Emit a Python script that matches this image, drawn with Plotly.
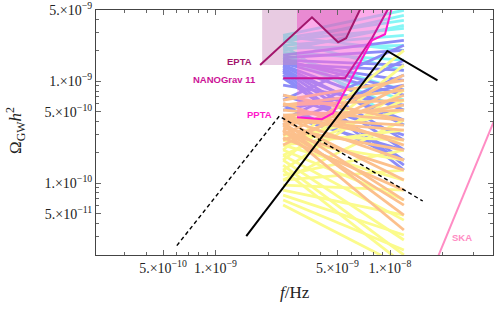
import plotly.graph_objects as go

# ---------------- data ----------------
# frequency range of the fan of model spectra
fan_f = [2.44e-9, 1.2e-8]

cyan_left = [2.82e-9, 2.65e-9, 2.52e-9, 2.40e-9, 2.25e-9, 2.10e-9, 2.01e-9, 1.92e-9, 1.80e-9, 1.70e-9, 2.25e-9, 2.52e-9, 2.75e-9, 1.61e-9]
cyan_right = [4.97e-9, 3.96e-9, 3.30e-9, 4.43e-9, 2.82e-9, 2.25e-9, 3.54e-9, 1.61e-9, 8.16e-10, 5.20e-10, 3.71e-10, 1.28e-9, 2.01e-9, 6.52e-10]

blue_left = [1.80e-9, 1.70e-9, 1.61e-9, 1.54e-9, 1.50e-9, 1.44e-9, 1.40e-9, 1.34e-9, 1.28e-9, 1.23e-9, 1.15e-9, 1.07e-9,
             1.61e-9, 1.47e-9, 1.28e-9, 9.14e-10, 7.29e-10, 5.82e-10, 4.65e-10, 4.15e-10, 3.71e-10, 6.52e-10, 5.20e-10]
blue_right = [2.52e-9, 2.01e-9, 1.44e-9, 1.02e-9, 7.29e-10, 5.20e-10, 3.71e-10, 2.64e-10, 2.11e-10, 1.50e-10, 1.34e-10, 1.68e-10,
              8.16e-10, 1.28e-9, 4.15e-10, 5.82e-10, 2.96e-10, 1.68e-10, 2.11e-10, 1.61e-9, 1.15e-9, 2.25e-9, 9.14e-10]

orange_left = [6.52e-10, 5.82e-10, 5.20e-10, 4.65e-10, 4.35e-10, 4.15e-10, 3.90e-10, 3.71e-10, 3.31e-10, 5.82e-10, 4.65e-10, 4.15e-10,
               3.45e-10, 3.20e-10, 2.80e-10, 2.64e-10, 2.36e-10, 2.96e-10, 3.71e-10, 4.35e-10, 3.31e-10, 7.29e-10, 6.08e-10]
orange_right = [1.02e-9, 6.52e-10, 4.15e-10, 2.64e-10, 1.68e-10, 1.07e-10, 6.81e-11, 4.85e-11, 3.46e-11, 8.16e-10, 5.20e-10, 3.31e-10,
                2.11e-10, 1.34e-10, 8.53e-11, 7.29e-10, 9.14e-10, 1.15e-9, 5.82e-10, 3.71e-10, 6.08e-11, 4.15e-10, 2.36e-10]

yellow_left = [2.96e-10, 2.64e-10, 2.36e-10, 2.11e-10, 1.88e-10, 1.68e-10, 1.50e-10, 1.34e-10, 1.20e-10, 1.07e-10, 9.55e-11,
               8.53e-11, 7.62e-11, 6.81e-11, 6.08e-11, 2.11e-10, 1.68e-10, 1.34e-10, 1.07e-10, 2.36e-10, 2.64e-10, 1.88e-10]
yellow_right = [2.64e-10, 1.68e-10, 1.07e-10, 6.81e-11, 4.33e-11, 2.76e-11, 1.97e-11, 1.60e-11, 2.11e-10, 1.34e-10, 8.53e-11,
                4.85e-11, 3.09e-11, 2.20e-11, 1.50e-11, 2.01e-9, 1.44e-9, 8.16e-10, 4.15e-10, 3.31e-10, 5.20e-10, 6.52e-10]

# PTA sensitivity curves
epta_f = [1.80e-9, 3.57e-9, 5.04e-9, 5.60e-9, 6.92e-9]
epta_om = [1.44e-9, 4.24e-9, 2.41e-9, 2.64e-9, 5.56e-9]

nano_f = [2.44e-9, 5.52e-9, 7.88e-9, 1.00e-8]
nano_om = [1.07e-9, 1.07e-9, 2.64e-9, 5.56e-9]

ppta_f = [2.93e-9, 4.07e-9, 4.71e-9, 7.88e-9, 9.36e-9, 1.00e-8, 1.05e-8]
ppta_om = [4.44e-10, 4.24e-10, 4.85e-10, 2.52e-9, 2.89e-9, 4.74e-9, 6.22e-9]

ska_f = [1.85e-8, 4.0e-8]
ska_om = [1.76e-11, 4.33e-10]

band_f = [1.85e-9, 2.93e-9]
band_om = [1.44e-9, 7e-9]

# model spectra (black)
dashed_f = [6.0e-10, 2.32e-9, 1.54e-8]
dashed_om = [2.43e-11, 4.54e-10, 6.67e-11]
solid_f = [1.50e-9, 9.65e-9, 1.87e-8]
solid_om = [3.02e-11, 1.98e-9, 1.02e-9]

top_om = 7e-9

# ticks
x_major = [5e-10, 1e-9, 5e-9, 1e-8]
x_major_text = ["5.×10<sup>−10</sup>", "1.×10<sup>−9</sup>", "5.×10<sup>−9</sup>", "1.×10<sup>−8</sup>"]
x_minor = [3e-10, 4e-10, 6e-10, 7e-10, 8e-10, 9e-10, 2e-9, 3e-9, 4e-9, 6e-9, 7e-9, 8e-9, 9e-9, 2e-8, 3e-8]
y_major = [5e-11, 1e-10, 5e-10, 1e-9, 5e-9]
y_major_text = ["5.×10<sup>−11</sup>", "1.×10<sup>−10</sup>", "5.×10<sup>−10</sup>", "1.×10<sup>−9</sup>", "5.×10<sup>−9</sup>"]
y_minor = [2e-11, 3e-11, 4e-11, 6e-11, 7e-11, 8e-11, 9e-11, 2e-10, 3e-10, 4e-10, 6e-10, 7e-10, 8e-10, 9e-10,
           2e-9, 3e-9, 4e-9]

# ---------------- figure ----------------
fig = go.Figure()


def segs(left, right):
    xs, ys = [], []
    for a, b in zip(left, right):
        xs += [fan_f[0], fan_f[1], None]
        ys += [a, b, None]
    return xs, ys


for left, right, col in [(cyan_left, cyan_right, "#86f6f6"),
                         (blue_left, blue_right, "#8c8cf8"),
                         (yellow_left, yellow_right, "#fbfb8c"),
                         (orange_left, orange_right, "#fcc08c")]:
    xs, ys = segs(left, right)
    fig.add_trace(go.Scatter(x=xs, y=ys, mode="lines", line=dict(color=col, width=2.8),
                             hoverinfo="skip", showlegend=False))

# shaded regions
fig.add_trace(go.Scatter(x=[band_f[0], band_f[1], band_f[1], band_f[0]],
                         y=[band_om[0], band_om[0], band_om[1], band_om[1]],
                         fill="toself", mode="none", fillcolor="rgba(205,140,190,0.45)",
                         hoverinfo="skip", showlegend=False))
fig.add_trace(go.Scatter(x=[band_f[1]] + nano_f[1:] + [nano_f[-1], band_f[1]],
                         y=[nano_om[0]] + nano_om[1:] + [top_om, top_om],
                         fill="toself", mode="none", fillcolor="rgba(245,115,215,0.38)",
                         hoverinfo="skip", showlegend=False))
fig.add_trace(go.Scatter(x=ppta_f + [ppta_f[-1], ppta_f[0]], y=ppta_om + [top_om, top_om],
                         fill="toself", mode="none", fillcolor="rgba(255,110,220,0.32)",
                         hoverinfo="skip", showlegend=False))
fig.add_trace(go.Scatter(x=[band_f[1]] + epta_f[1:] + [epta_f[-1], band_f[1]],
                         y=[3.0e-9] + epta_om[1:] + [top_om, top_om],
                         fill="toself", mode="none", fillcolor="rgba(190,60,155,0.3)",
                         hoverinfo="skip", showlegend=False))

# curves
fig.add_trace(go.Scatter(x=epta_f, y=epta_om, mode="lines", line=dict(color="#a3166c", width=2),
                         hoverinfo="skip", showlegend=False))
fig.add_trace(go.Scatter(x=nano_f, y=nano_om, mode="lines", line=dict(color="#cc1497", width=2),
                         hoverinfo="skip", showlegend=False))
fig.add_trace(go.Scatter(x=ppta_f, y=ppta_om, mode="lines", line=dict(color="#ff18cc", width=2),
                         hoverinfo="skip", showlegend=False))
fig.add_trace(go.Scatter(x=ska_f, y=ska_om, mode="lines", line=dict(color="#ff8cc4", width=2),
                         hoverinfo="skip", showlegend=False))
fig.add_trace(go.Scatter(x=dashed_f, y=dashed_om, mode="lines",
                         line=dict(color="black", width=1.4, dash="4px,3px"),
                         hoverinfo="skip", showlegend=False))
fig.add_trace(go.Scatter(x=solid_f, y=solid_om, mode="lines", line=dict(color="black", width=2),
                         hoverinfo="skip", showlegend=False))

axis_common = dict(type="log", showgrid=False, zeroline=False, showline=True, linecolor="#444",
                   linewidth=1, mirror="allticks", ticks="inside", ticklen=5, tickcolor="#666",
                   automargin=False,
                   tickfont=dict(family="Liberation Serif", size=14, color="#222"))

fig.update_xaxes(range=[-9.685, -7.410], tickmode="array", tickvals=x_major, ticktext=x_major_text,
                 minor=dict(tickmode="array", tickvals=x_minor, ticks="inside", ticklen=3, tickcolor="#666"),
                 **axis_common)
fig.update_yaxes(range=[-10.706, -8.301], tickmode="array", tickvals=y_major, ticktext=y_major_text,
                 minor=dict(tickmode="array", tickvals=y_minor, ticks="inside", ticklen=3, tickcolor="#666"),
                 **axis_common)

W, H = 500, 314
L, R, T, B = 96, 7, 10, 59


def px(x):
    return (x - L) / (W - L - R)


def py(y):
    return (H - B - y) / (H - T - B)


lab_font = "Liberation Sans"
ann = [
    dict(text="<b>EPTA</b>", x=px(254), y=py(61), xanchor="right", yanchor="middle",
         font=dict(family=lab_font, size=9.5, color="#a3166c")),
    dict(text="<b>NANOGrav 11</b>", x=px(258), y=py(79), xanchor="right", yanchor="middle",
         font=dict(family=lab_font, size=9.5, color="#cc1497")),
    dict(text="<b>PPTA</b>", x=px(274), y=py(114), xanchor="right", yanchor="middle",
         font=dict(family=lab_font, size=9.5, color="#ff18cc")),
    dict(text="<b>SKA</b>", x=px(462), y=py(237), xanchor="center", yanchor="middle",
         font=dict(family=lab_font, size=9.5, color="#ff8cc4")),
    dict(text="Ω<sub>GW</sub><i>h</i><sup>2</sup>", x=px(15), y=py(131), textangle=-90,
         xanchor="center", yanchor="middle", font=dict(family="Liberation Serif", size=17, color="#222")),
    dict(text="<i>f</i>/Hz", x=px(295), y=py(292), xanchor="center", yanchor="middle",
         font=dict(family="Liberation Serif", size=17, color="#222")),
]
for a in ann:
    a.update(xref="paper", yref="paper", showarrow=False)

fig.update_layout(width=W, height=H, margin=dict(l=L, r=R, t=T, b=B, pad=0, autoexpand=False),
                  plot_bgcolor="white", paper_bgcolor="white", annotations=ann, showlegend=False)

fig.write_html("out.html", config={"displayModeBar": False},
               post_script="document.body.style.margin='0';")
